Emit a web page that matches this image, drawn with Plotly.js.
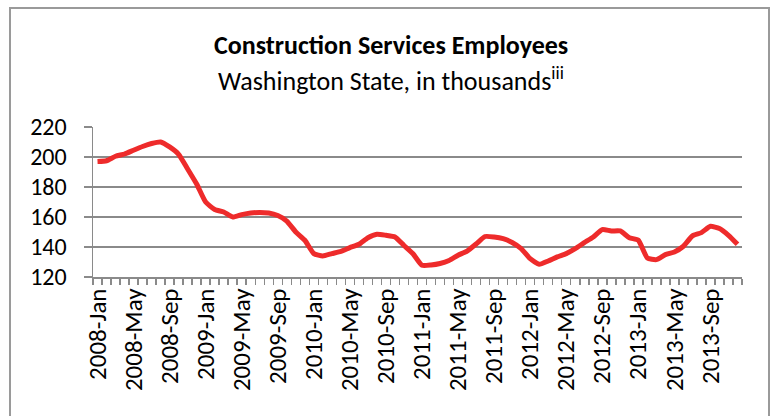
<!DOCTYPE html>
<html>
<head>
<meta charset="utf-8">
<script src="https://cdn.plot.ly/plotly-3.0.1.min.js"></script>
<style>
  html, body { margin: 0; padding: 0; background: #fff; }
  #wrap { position: relative; width: 771px; height: 416px; overflow: hidden; }
  #chart { width: 771px; height: 416px; }
  #frame { position: absolute; left: 9px; top: 7px; width: 761px; height: 430px;
           border: 2px solid #9a9a9a; pointer-events: none; box-sizing: border-box; }
</style>
</head>
<body>
<div id="wrap">
  <div id="chart"></div>
  <div id="frame"></div>
</div>
<script>
const years = [2008, 2009, 2010, 2011, 2012, 2013];
const months = ["Jan","Feb","Mar","Apr","May","Jun","Jul","Aug","Sep","Oct","Nov","Dec"];
const categories = [];
years.forEach(y => months.forEach(m => categories.push(y + "-" + m)));

const employees = [
  197, 197.5, 200.5, 202, 204.5, 207, 209, 210, 206.7, 201.8, 192, 182,
  170, 165, 163.3, 160, 161.6, 162.7, 163, 162.7, 161, 157.3, 150, 144.5,
  135.6, 134, 135.6, 137.1, 139.6, 141.8, 146.2, 148.5, 147.8, 146.7, 141, 135.5,
  127.8, 128, 129, 131, 134.5, 137.3, 142, 147, 146.7, 145.6, 143, 138.9,
  132.2, 128.5, 130.7, 133.4, 135.6, 138.9, 142.9, 146.7, 151.6, 150.7, 150.7, 146.2,
  144.5, 132.7, 131.6, 134.9, 136.7, 140.5, 147.4, 149.6, 153.8, 152.3, 147.8, 141.8
];

const labelEvery = 4;
const tickText = categories.map((c, i) => (i % labelEvery === 0 ? c : ""));

const yTicks = [120, 140, 160, 180, 200, 220];

const titleText = "Construction Services Employees";
const subtitleText = "Washington State, in thousands<sup>iii</sup>";

const FONT = "Carlito, Lato, 'Liberation Sans Narrow', sans-serif";

const trace = {
  x: categories,
  y: employees,
  type: "scatter",
  mode: "lines",
  line: { color: "#ee2b2b", width: 5, shape: "spline", smoothing: 0.5 },
  hoverinfo: "x+y"
};

const layout = {
  width: 771, height: 416,
  margin: { l: 92.7, r: 29.3, t: 126.7, b: 139.3, pad: 0 },
  paper_bgcolor: "#fff", plot_bgcolor: "#fff",
  showlegend: false,
  font: { family: FONT, size: 23, color: "#000" },
  xaxis: {
    type: "category",
    range: [-0.5, categories.length - 0.5],
    tickmode: "array",
    tickvals: categories,
    ticktext: tickText,
    tickson: "boundaries",
    ticks: "outside", ticklen: 6, tickwidth: 1.5, tickcolor: "#8a8a8a",
    tickangle: -90,
    showgrid: false,
    showline: true, linecolor: "#8a8a8a", linewidth: 1.5,
    tickfont: { family: FONT, size: 25, color: "#000" },
    fixedrange: true
  },
  yaxis: {
    range: [120, 220],
    tickmode: "array",
    tickvals: yTicks,
    ticks: "outside", ticklen: 8, tickwidth: 1.5, tickcolor: "#8a8a8a",
    ticklabelstandoff: 12,
    showgrid: true, gridcolor: "#8a8a8a", gridwidth: 1.5,
    showline: true, linecolor: "#8a8a8a", linewidth: 1.5,
    zeroline: false,
    tickfont: { family: FONT, size: 24, color: "#000" },
    fixedrange: true
  },
  annotations: [
    { text: "<b>" + titleText + "</b>", xref: "paper", yref: "paper",
      x: 0.4585, y: 1.545, xanchor: "center", yanchor: "middle", showarrow: false,
      font: { family: FONT, size: 26, color: "#000" } },
    { text: subtitleText, xref: "paper", yref: "paper",
      x: 0.4585, y: 1.315, xanchor: "center", yanchor: "middle", showarrow: false,
      font: { family: FONT, size: 26, color: "#000" } }
  ]
};

Plotly.newPlot("chart", [trace], layout, { displayModeBar: false, staticPlot: true });
</script>
</body>
</html>
